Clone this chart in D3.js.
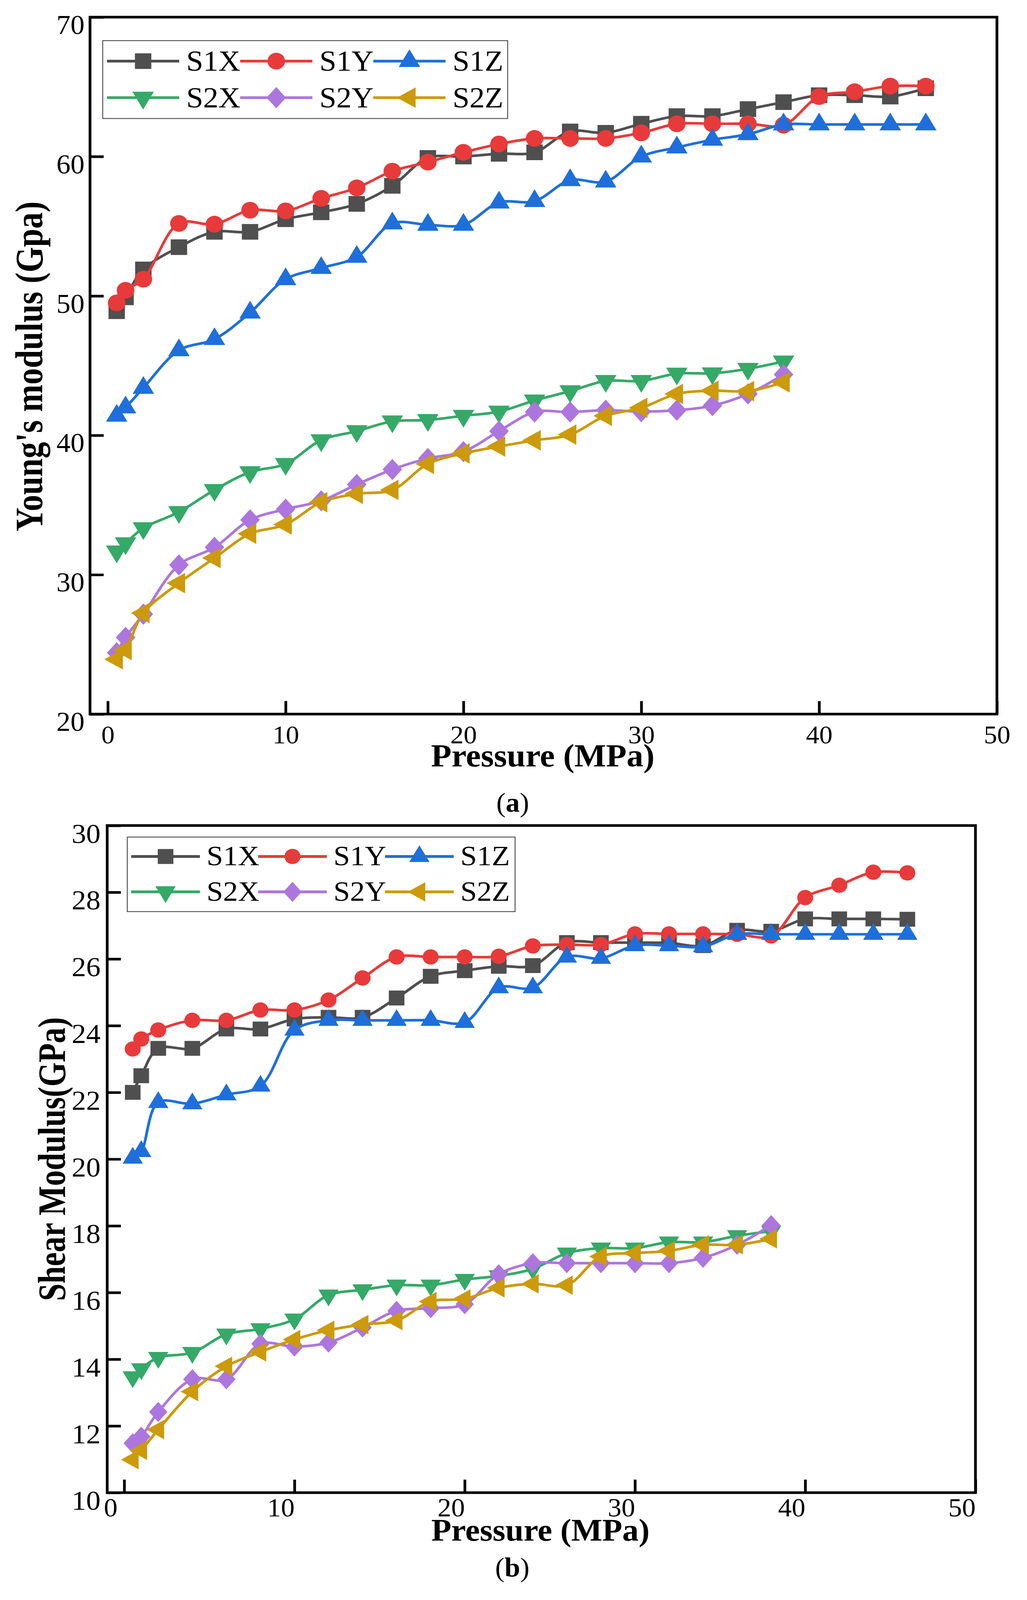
<!DOCTYPE html>
<html>
<head>
<meta charset="utf-8">
<script src="https://cdn.jsdelivr.net/npm/d3@7"></script>
<style>
html, body { margin: 0; padding: 0; background: #fff; overflow: hidden; }
.container { width: 100vw; height: 100vh; }
svg { display: block; }
</style>
</head>
<body>
<div class="container"></div>
<script>
// DATA //////////////////////////////////////////////////////////
var pressS1 = [0.5, 1, 2, 4, 6, 8, 10, 12, 14, 16, 18, 20, 22, 24, 26, 28, 30, 32, 34, 36, 38, 40, 42, 44, 46]
var pressS2 = [0.5, 1, 2, 4, 6, 8, 10, 12, 14, 16, 18, 20, 22, 24, 26, 28, 30, 32, 34, 36, 38]

var seriesNames = ['S1X', 'S1Y', 'S1Z', 'S2X', 'S2Y', 'S2Z']
var seriesColors = ['#4f4f4f', '#e83a3a', '#1e6fdb', '#35a967', '#ad76de', '#cc9a0a']
var seriesShapes = ['square', 'circle', 'up', 'down', 'diamond', 'left']

// (a) Young's modulus, GPa
var youngS1X = [48.9, 49.9, 51.9, 53.5, 54.6, 54.6, 55.5, 56.0, 56.6, 57.9, 59.9, 60.0, 60.2, 60.3, 61.8, 61.7, 62.35, 62.9, 62.9, 63.4, 63.9, 64.4, 64.4, 64.3, 64.9]
var youngS1Y = [49.5, 50.4, 51.2, 55.2, 55.15, 56.15, 56.1, 57.0, 57.75, 58.95, 59.6, 60.3, 60.9, 61.3, 61.3, 61.3, 61.7, 62.35, 62.35, 62.35, 62.25, 64.3, 64.65, 65.05, 65.05]
var youngS1Z = [41.4, 42.0, 43.4, 46.1, 46.9, 48.8, 51.2, 52.0, 52.8, 55.2, 55.1, 55.1, 56.7, 56.8, 58.3, 58.2, 60.0, 60.65, 61.2, 61.6, 62.3, 62.3, 62.3, 62.3, 62.3]
var youngS2X = [31.67, 32.26, 33.34, 34.5, 36.08, 37.36, 37.95, 39.65, 40.3, 41.0, 41.1, 41.4, 41.7, 42.5, 43.17, 43.9, 43.9, 44.43, 44.45, 44.77, 45.3]
var youngS2Y = [24.4, 25.5, 27.17, 30.7, 31.96, 33.93, 34.7, 35.3, 36.47, 37.55, 38.34, 38.83, 40.3, 41.67, 41.67, 41.8, 41.7, 41.8, 42.13, 42.97, 44.36]
var youngS2Z = [23.93, 24.6, 27.25, 29.4, 31.2, 32.94, 33.6, 35.2, 35.8, 36.08, 37.95, 38.7, 39.2, 39.64, 40.05, 41.4, 41.97, 42.97, 43.2, 43.17, 43.8]

// (b) Shear modulus, GPa
var shearS1X = [22.0, 22.5, 23.32, 23.32, 23.9, 23.9, 24.2, 24.25, 24.25, 24.83, 25.48, 25.65, 25.78, 25.8, 26.49, 26.49, 26.49, 26.48, 26.4, 26.86, 26.83, 27.2, 27.2, 27.2, 27.19]
var shearS1Y = [23.3, 23.6, 23.87, 24.16, 24.16, 24.47, 24.47, 24.77, 25.43, 26.06, 26.06, 26.06, 26.08, 26.39, 26.43, 26.43, 26.75, 26.75, 26.75, 26.74, 26.69, 27.84, 28.21, 28.6, 28.58]
var shearS1Z = [20.03, 20.23, 21.7, 21.66, 21.93, 22.19, 23.87, 24.16, 24.16, 24.16, 24.16, 24.1, 25.14, 25.14, 26.06, 26.02, 26.4, 26.4, 26.37, 26.74, 26.74, 26.74, 26.74, 26.74, 26.74]
var shearS2X = [13.47, 13.71, 14.05, 14.2, 14.75, 14.91, 15.2, 15.92, 16.08, 16.22, 16.22, 16.39, 16.5, 16.71, 17.18, 17.33, 17.33, 17.51, 17.51, 17.7, 17.84]
var shearS2Y = [11.48, 11.68, 12.42, 13.4, 13.4, 14.46, 14.38, 14.5, 14.95, 15.45, 15.53, 15.65, 16.55, 16.88, 16.88, 16.88, 16.88, 16.88, 17.04, 17.43, 18.02]
var shearS2Z = [10.99, 11.27, 11.89, 13.03, 13.79, 14.22, 14.59, 14.87, 15.04, 15.16, 15.73, 15.81, 16.14, 16.26, 16.22, 17.08, 17.18, 17.25, 17.43, 17.43, 17.61]

var xTicks = [0, 10, 20, 30, 40, 50]
var youngTicks = [20, 30, 40, 50, 60, 70]
var shearTicks = [10, 12, 14, 16, 18, 20, 22, 24, 26, 28, 30]
//////////////////////////////////////////////////////////////////

var FONT = "'Liberation Serif','Times New Roman',serif"
var W = 2630, H = 4293

// drawn in a 2630x4293 frame, stretched to whatever the viewport really is
var svg = d3.select('.container')
    .append('svg')
    .attr('width', '100%')
    .attr('height', '100%')
    .attr('viewBox', '0 0 ' + W + ' ' + H)
    .attr('preserveAspectRatio', 'none')

svg.append('rect')
    .attr('width', W)
    .attr('height', H)
    .style('fill', '#fff')

// symbol paths, centred on the data point
function marker(type, m) {
    if (type == 'square') {
        var h = m.sq / 2
        return 'M' + (-h) + ',' + (-h) + 'H' + h + 'V' + h + 'H' + (-h) + 'Z'
    }
    if (type == 'circle') {
        var r = m.ci
        return 'M' + r + ',0A' + r + ',' + r + ' 0 1,1 ' + (-r) + ',0A' + r + ',' + r + ' 0 1,1 ' + r + ',0Z'
    }
    if (type == 'diamond') {
        var dw = m.dia[0], dh = m.dia[1]
        return 'M0,' + (-dh) + 'L' + dw + ',0L0,' + dh + 'L' + (-dw) + ',0Z'
    }
    var a = m.tri, t = a * Math.sqrt(3) / 2
    if (type == 'up') return 'M0,' + (-2 * t / 3) + 'L' + (a / 2) + ',' + (t / 3) + 'L' + (-a / 2) + ',' + (t / 3) + 'Z'
    if (type == 'down') return 'M0,' + (2 * t / 3) + 'L' + (a / 2) + ',' + (-t / 3) + 'L' + (-a / 2) + ',' + (-t / 3) + 'Z'
    if (type == 'left') return 'M' + (-2 * t / 3) + ',0L' + (t / 3) + ',' + (-a / 2) + 'L' + (t / 3) + ',' + (a / 2) + 'Z'
}

var panels = [
    {
        left: 230.5, right: 2553, top: 46, bottom: 1916,
        ydom: [20, 70], yticks: youngTicks,
        series: [youngS1X, youngS1Y, youngS1Z, youngS2X, youngS2Y, youngS2Z],
        mk: { sq: 42, ci: 22.5, tri: 55, dia: [25, 28.5] },
        yfont: 72, xfont: 68, ypad: 14, xpad: 30, xdx: 0,
        legend: { x0: 274, step: 341, len: 185, gap: 18, rows: [164, 262], base: 26, font: 78,
                  box: [263, 109, 1300, 318] },
        ytitle: "Young's modulus (Gpa)", ytx: 108, yty: 983, ytfont: 88, ytstretch: 1.12,
        xtitle: 'Pressure (MPa)', xtx: 1390, xty: 2056, xtfont: 86,
        tag: 'a', tagx: 1313, tagy: 2178
    },
    {
        left: 274.5, right: 2498, top: 2215, bottom: 4005,
        ydom: [10, 30], yticks: shearTicks,
        series: [shearS1X, shearS1Y, shearS1Z, shearS2X, shearS2Y, shearS2Z],
        mk: { sq: 40, ci: 20.5, tri: 52, dia: [23.5, 27] },
        yfont: 74, xfont: 70, ypad: 17, xpad: 14, xdx: -35,
        legend: { x0: 336, step: 325, len: 176, gap: 17, rows: [2298, 2393], base: 24, font: 76,
                  box: [326, 2246, 1319, 2446] },
        ytitle: 'Shear Modulus(GPa)', ytx: 166, yty: 3110, ytfont: 84, ytstretch: 1.18,
        xtitle: 'Pressure (MPa)', xtx: 1384, xty: 4134, xtfont: 84,
        tag: 'b', tagx: 1312, tagy: 4230
    }
]

panels.forEach(drawPanel)

function drawPanel(p) {
    var x = d3.scaleLinear().domain([-1, 50]).range([p.left, p.right])
    var y = d3.scaleLinear().domain(p.ydom).range([p.bottom, p.top])

    var g = svg.append('g')

    // axes, ticks pointing inward
    var gx = g.append('g')
        .attr('transform', 'translate(0,' + p.bottom + ')')
        .call(d3.axisBottom(x).tickValues(xTicks).tickSize(-35).tickPadding(p.xpad).tickFormat(d3.format('d')))
    gx.select('.domain').remove()
    gx.selectAll('line').style('stroke', '#000').style('stroke-width', 7)
    gx.selectAll('text')
        .attr('dx', p.xdx)
        .style('font-family', FONT)
        .style('font-size', p.xfont + 'px')
        .style('fill', '#000')

    var gy = g.append('g')
        .attr('transform', 'translate(' + p.left + ',0)')
        .call(d3.axisLeft(y).tickValues(p.yticks).tickSize(-35).tickPadding(p.ypad).tickFormat(d3.format('d')))
    gy.select('.domain').remove()
    gy.selectAll('line').style('stroke', '#000').style('stroke-width', 7)
    gy.selectAll('text')
        .attr('dy', '0.62em')
        .style('font-family', FONT)
        .style('font-size', p.yfont + 'px')
        .style('fill', '#000')

    // series
    var line = d3.line()
        .x(d => x(d[0]))
        .y(d => y(d[1]))
        .curve(d3.curveCatmullRom.alpha(0.5))

    p.series.forEach(function (vals, i) {
        var xs = i < 3 ? pressS1 : pressS2
        var pts = vals.map((v, j) => [xs[j], v])
        var sg = g.append('g').attr('class', 'series ' + seriesNames[i])

        sg.append('path')
            .datum(pts)
            .attr('d', line)
            .style('fill', 'none')
            .style('stroke', seriesColors[i])
            .style('stroke-width', 7)

        sg.selectAll('.pt')
            .data(pts)
            .enter()
            .append('path')
            .attr('class', 'pt')
            .attr('transform', d => 'translate(' + x(d[0]) + ',' + y(d[1]) + ')')
            .attr('d', marker(seriesShapes[i], p.mk))
            .style('fill', seriesColors[i])
    })

    // frame
    g.append('rect')
        .attr('x', p.left)
        .attr('y', p.top)
        .attr('width', p.right - p.left)
        .attr('height', p.bottom - p.top)
        .style('fill', 'none')
        .style('stroke', '#000')
        .style('stroke-width', 7)

    // legend
    var L = p.legend
    g.append('rect')
        .attr('x', L.box[0])
        .attr('y', L.box[1])
        .attr('width', L.box[2] - L.box[0])
        .attr('height', L.box[3] - L.box[1])
        .style('fill', '#fff')
        .style('stroke', '#555')
        .style('stroke-width', 2.5)

    var lg = g.selectAll('.leg')
        .data(seriesNames)
        .enter()
        .append('g')
        .attr('class', 'leg')
        .attr('transform', (d, i) => 'translate(' + (L.x0 + (i % 3) * L.step) + ',' + L.rows[Math.floor(i / 3)] + ')')

    lg.append('line')
        .attr('x1', 0)
        .attr('x2', L.len)
        .style('stroke', (d, i) => seriesColors[i])
        .style('stroke-width', 7.5)

    lg.append('path')
        .attr('transform', 'translate(' + (L.len / 2) + ',0)')
        .attr('d', (d, i) => marker(seriesShapes[i], p.mk))
        .style('fill', (d, i) => seriesColors[i])

    lg.append('text')
        .attr('x', L.len + L.gap)
        .attr('y', L.base)
        .style('font-family', FONT)
        .style('font-size', L.font + 'px')
        .style('fill', '#000')
        .text(d => d)

    // titles
    g.append('text')
        .attr('transform', 'translate(' + p.ytx + ',' + p.yty + ') rotate(-90) scale(1,' + p.ytstretch + ')')
        .attr('text-anchor', 'middle')
        .style('font-family', FONT)
        .style('font-weight', 'bold')
        .style('font-size', p.ytfont + 'px')
        .text(p.ytitle)

    g.append('text')
        .attr('x', p.xtx)
        .attr('y', p.xty)
        .attr('text-anchor', 'middle')
        .style('font-family', FONT)
        .style('font-weight', 'bold')
        .style('font-size', p.xtfont + 'px')
        .text(p.xtitle)

    var tag = g.append('text')
        .attr('x', p.tagx)
        .attr('y', p.tagy)
        .attr('text-anchor', 'middle')
        .style('font-family', FONT)
        .style('font-size', '72px')
    tag.append('tspan').text('(')
    tag.append('tspan').style('font-weight', 'bold').text(p.tag)
    tag.append('tspan').text(')')
}
</script>
</body>
</html>
